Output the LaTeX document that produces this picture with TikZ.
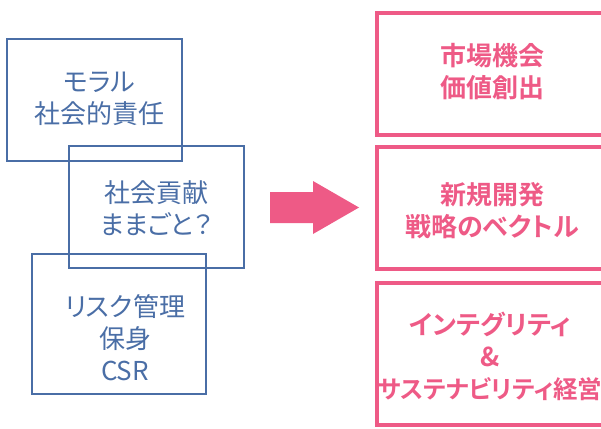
\documentclass[tikz,border=0pt]{standalone}
\usepackage{fontspec}
\newfontfamily\jpfont[RawFeature=+palt]{Noto Sans CJK JP}
\newfontfamily\jpbold[RawFeature=+palt]{Noto Sans CJK JP Bold}
\definecolor{boxblue}{HTML}{4A6EA6}
\definecolor{boxpink}{HTML}{EE5A86}
\begin{document}
\begin{tikzpicture}[x=1pt,y=-1pt,
  bluebox/.style={draw=boxblue,line width=2.6pt},
  pinkbox/.style={draw=boxpink,line width=3.6pt},
  bluetext/.style={text=boxblue,font=\jpfont\fontsize{26}{32}\selectfont,align=center,inner sep=0pt},
  pinktext/.style={text=boxpink,font=\jpbold\fontsize{26}{32}\selectfont,align=center,inner sep=0pt}]
\useasboundingbox (0,0) rectangle (601,428);
\begin{scope}
\clip (0,0) rectangle (601,428);
\draw[bluebox] (7,39) rectangle (182,161);
\draw[bluebox] (69,146) rectangle (244,268);
\draw[bluebox] (32,254) rectangle (206,394);
\draw[pinkbox] (377,13) rectangle (610,135);
\draw[pinkbox] (377,147) rectangle (610,269);
\draw[pinkbox] (377,283) rectangle (610,425);
\end{scope}
\node[bluetext] (t1) at (99,99) {モラル\\社会的責任};
\node[bluetext] (t2) at (156,208) {社会貢献\\ままごと？};
\node[bluetext] (t3) at (125,338) {リスク管理\\保身\\CSR};
\node[pinktext] (p1) at (492,72) {市場機会\\価値創出};
\node[pinktext] (p2) at (492,211) {新規開発\\戦略のベクトル};
\node[pinktext] (p3) at (490,356) {インテグリティ\\\&\\{\fontsize{24.5}{32}\selectfont サステナビリティ経営}};
\fill[boxpink] (270,192) -- (313,192) -- (313,181) -- (359,207.5) -- (313,234) -- (313,223) -- (270,223) -- cycle;
\end{tikzpicture}
\end{document}
